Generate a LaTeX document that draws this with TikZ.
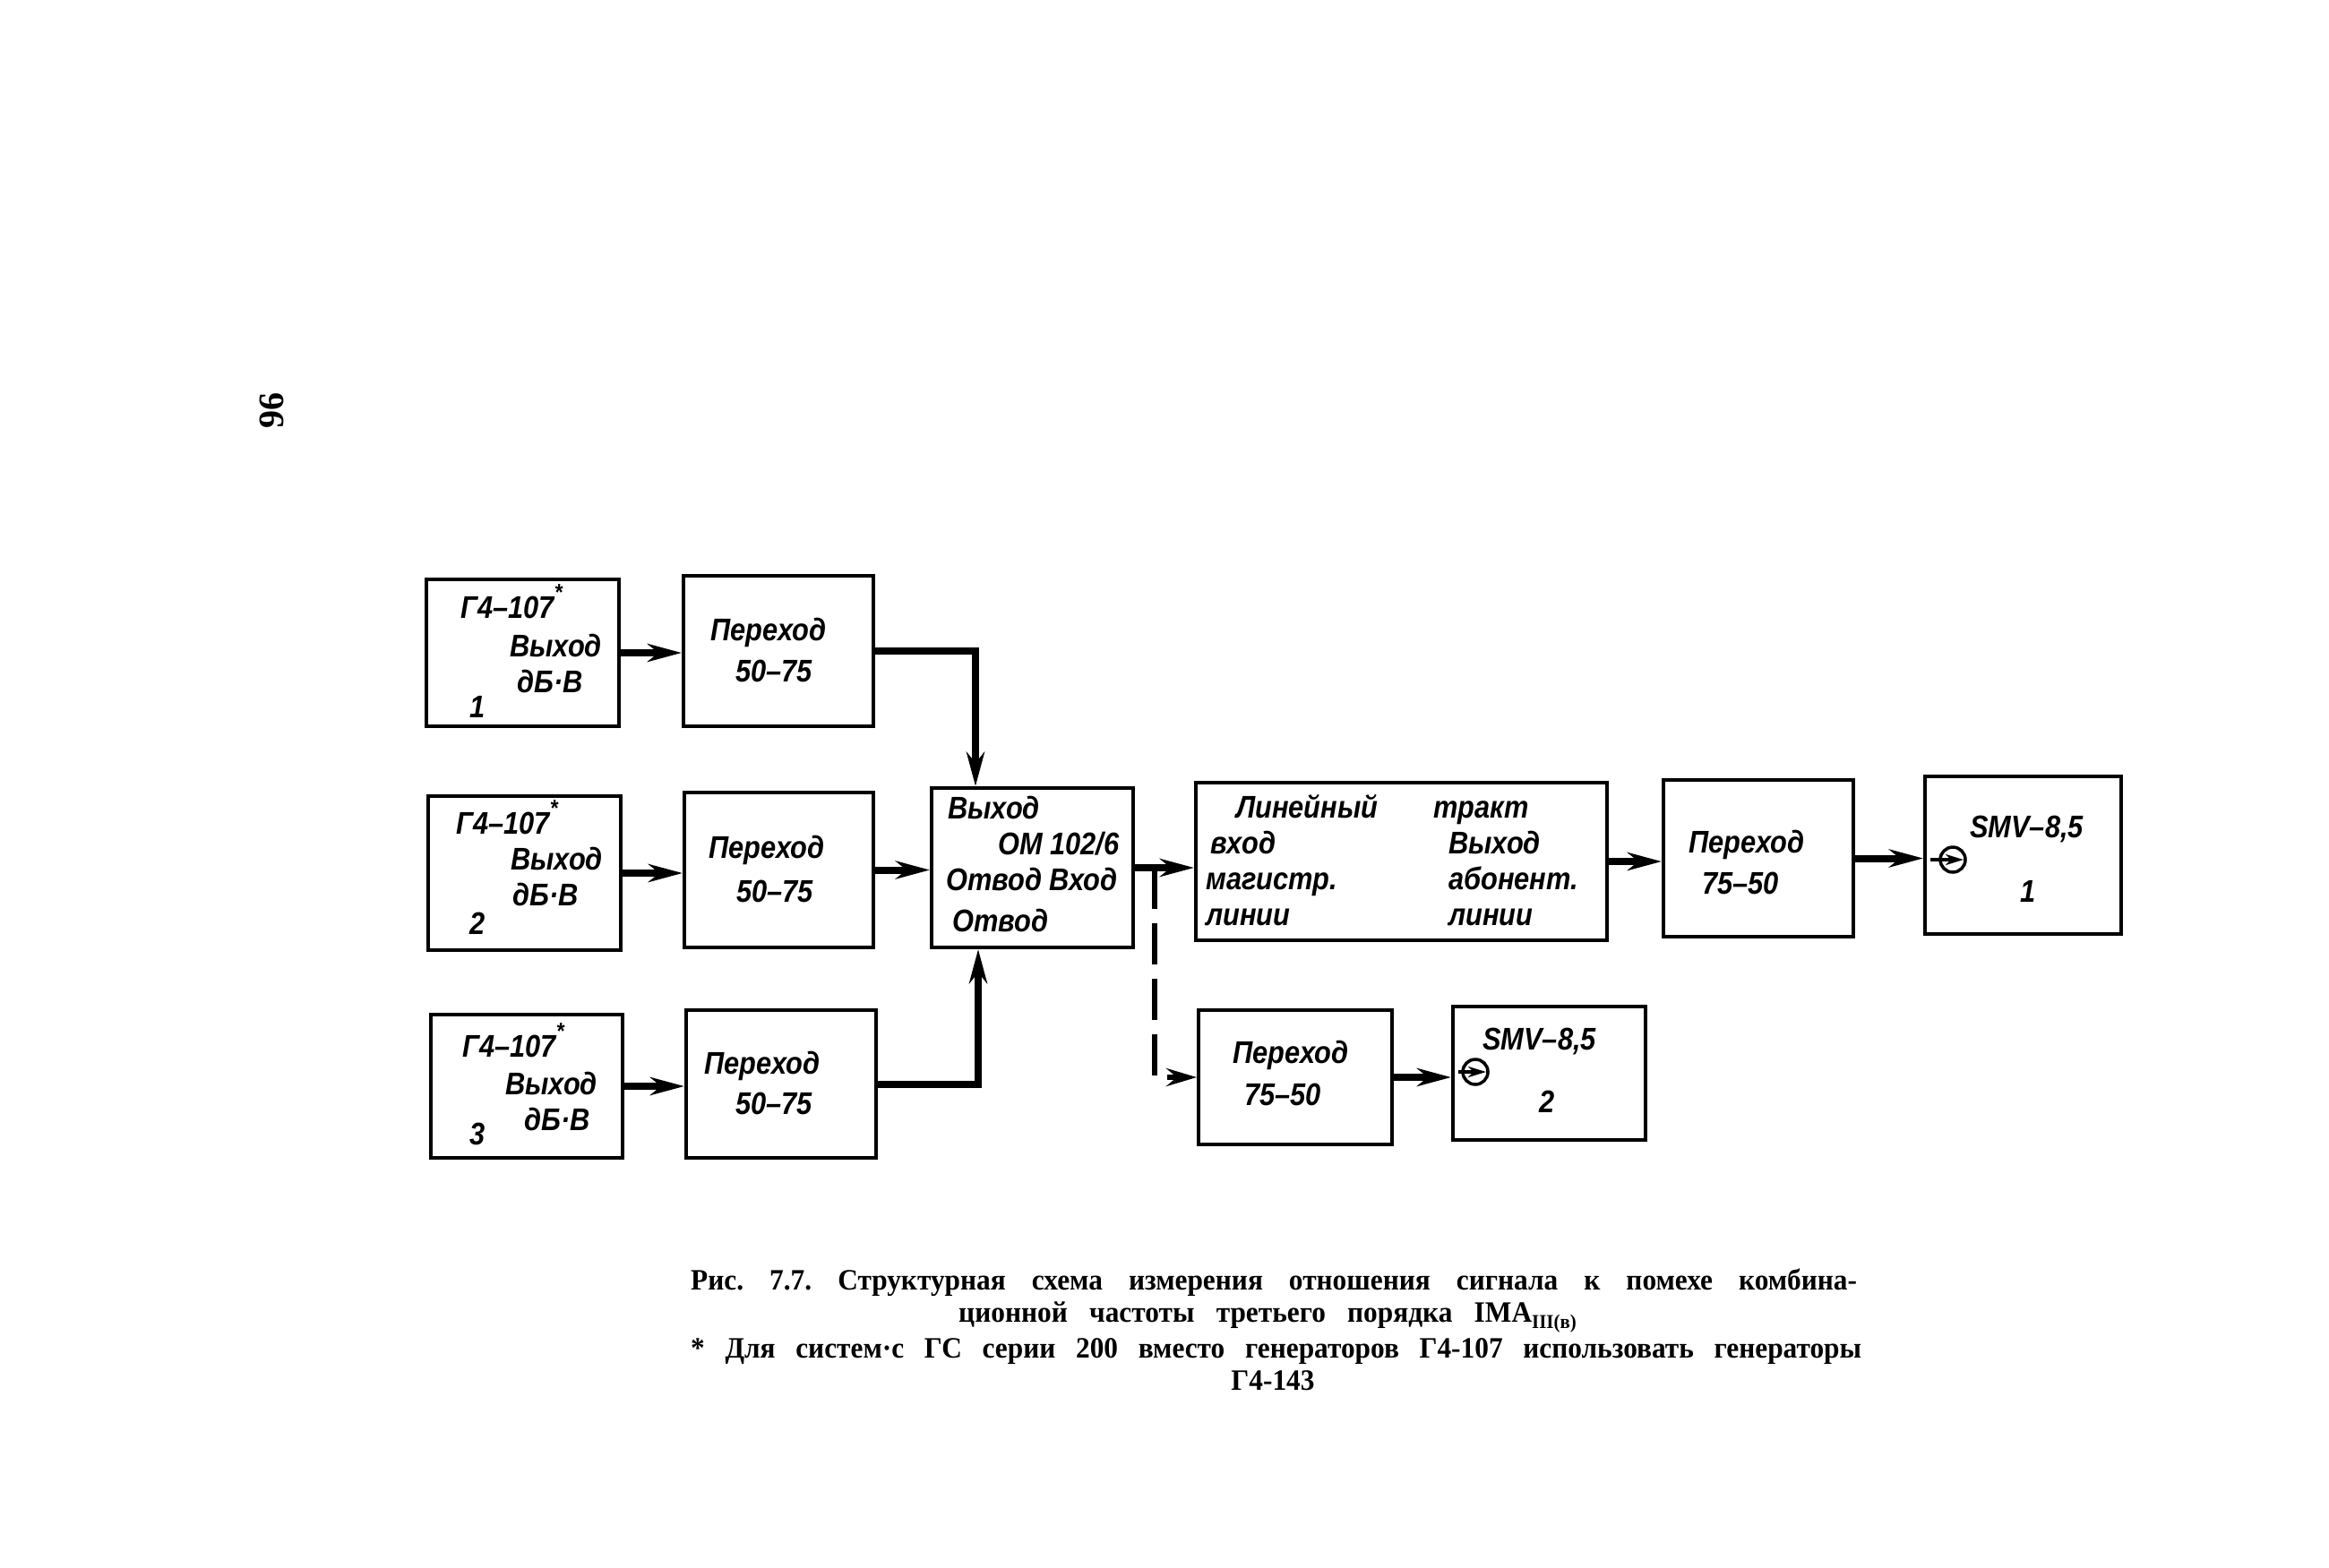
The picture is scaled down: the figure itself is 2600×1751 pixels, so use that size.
\documentclass[tikz,border=0pt]{standalone}
\usepackage{fontspec}
\setmainfont{Liberation Serif}
\newfontfamily\gost[FakeStretch=0.88]{Liberation Sans}
\newfontfamily\capfont[FakeStretch=0.95]{Liberation Serif}
\usetikzlibrary{arrows.meta,calc}
\newcommand{\st}{\raisebox{0.55em}{\fontsize{26}{26}\selectfont *}}
\newcommand{\vlines}[2]{\vtop{\baselineskip=#1\lineskiplimit=-100pt\lineskip=0pt #2}}
\begin{document}
\begin{tikzpicture}[x=1pt,y=-1pt,
  blk/.style={draw, line width=4pt, inner sep=0pt},
  lbl/.style={inner sep=0pt, anchor=base west, font=\gost\bfseries\itshape\fontsize{35}{40}\selectfont},
  captxt/.style={inner sep=0pt, anchor=base west, font=\capfont\bfseries\fontsize{33}{36}\selectfont\frenchspacing},
  conn/.style={line width=8pt, -{Stealth[length=38pt,width=20pt,inset=12pt]}},
  dconn/.style={line width=6pt, dash pattern=on 46pt off 16pt, -{Stealth[length=34pt,width=20pt,inset=12pt]}},
  inarr/.style={line width=4pt, -{Stealth[length=20pt,width=12pt,inset=6pt]}},
  ring/.style={circle, draw, line width=3.5pt, minimum size=28pt, inner sep=0pt}
]
\useasboundingbox (0,0) rectangle (2600,1751);

% page number
\node[inner sep=0pt, rotate=90, font=\bfseries\fontsize{40}{40}\selectfont] (pg) at (303,458) {96};

% boxes
\node[blk, minimum width=215pt, minimum height=164pt] (g1) at (583.5,729) {};
\node[blk, minimum width=215pt, minimum height=172pt] (g2) at (585.5,975) {};
\node[blk, minimum width=214pt, minimum height=160pt] (g3) at (588,1213) {};
\node[blk, minimum width=212pt, minimum height=168pt] (p1) at (869,727) {};
\node[blk, minimum width=211pt, minimum height=173pt] (p2) at (869.5,971.5) {};
\node[blk, minimum width=212pt, minimum height=165pt] (p3) at (872,1210.5) {};
\node[blk, minimum width=225pt, minimum height=178pt] (om) at (1152.5,969) {};
\node[blk, minimum width=459pt, minimum height=176pt] (ln) at (1564.5,962) {};
\node[blk, minimum width=212pt, minimum height=175pt] (p4) at (1963,958.5) {};
\node[blk, minimum width=219pt, minimum height=176pt] (s1) at (2258.5,955) {};
\node[blk, minimum width=216pt, minimum height=150pt] (p5) at (1446,1203) {};
\node[blk, minimum width=215pt, minimum height=149pt] (s2) at (1729.5,1198.5) {};

% texts: generators
\node[lbl] (g1t) at (514,690) {\vlines{40pt}{\hbox{Г4–107\st}\vskip3pt
  \hbox{\hspace*{55pt}Выход}
  \hbox{\makebox[63pt][l]{\hspace*{10pt}\raisebox{-28pt}{1}}дБ·В}}};
\node[lbl] (g2t) at (509,931) {\vlines{40pt}{\hbox{Г4–107\st}
  \hbox{\hspace*{61pt}Выход}
  \hbox{\makebox[63pt][l]{\hspace*{15pt}\raisebox{-32pt}{2}}дБ·В}}};
\node[lbl] (g3t) at (516,1180) {\vlines{40pt}{\hbox{Г4–107\st}\vskip2pt
  \hbox{\hspace*{48pt}Выход}
  \hbox{\makebox[69pt][l]{\hspace*{8pt}\raisebox{-16pt}{3}}дБ·В}}};
% transitions
\node[lbl] (p1a) at (793,715) {Переход};
\node[lbl] (p1b) at (821,761) {50–75};
\node[lbl] (p2a) at (791,958) {Переход};
\node[lbl] (p2b) at (822,1007) {50–75};
\node[lbl] (p3a) at (786,1199) {Переход};
\node[lbl] (p3b) at (821,1244) {50–75};
% OM
\node[lbl] (omt) at (1056,914) {\vlines{40pt}{\hbox{\hspace*{2pt}Выход}
  \hbox{\hspace*{58pt}ОМ 102/6}
  \hbox{Отвод Вход}\vskip6pt
  \hbox{\hspace*{7pt}Отвод}}};
% line path
\node[lbl] (lna) at (1380,913) {Линейный};
\node[lbl] (lnb) at (1600,913) {тракт};
\node[lbl] (lnl) at (1346,953) {\vlines{40pt}{\hbox{\hspace*{5pt}вход}\hbox{магистр.}\hbox{линии}}};
\node[lbl] (lnr) at (1617,953) {\vlines{40pt}{\hbox{Выход}\hbox{абонент.}\hbox{линии}}};
% right side
\node[lbl] (p4a) at (1885,952) {Переход};
\node[lbl] (p4b) at (1900,998) {75–50};
\node[lbl] (s1a) at (2199,935) {SMV–8,5};
\node[lbl] (s1b) at (2255,1007) {1};
\node[lbl] (p5a) at (1376,1187) {Переход};
\node[lbl] (p5b) at (1389,1234) {75–50};
\node[lbl] (s2a) at (1655,1172) {SMV–8,5};
\node[lbl] (s2b) at (1718,1242) {2};

% rings
\node[ring] (c1) at (2180,960) {};
\node[ring] (c2) at (1647,1197) {};

% connectors
\draw[conn] (g1.east) -- (g1.east -| p1.west);
\draw[conn] (g2.east) -- (g2.east -| p2.west);
\draw[conn] (g3.east) -- (g3.east -| p3.west);
\draw[conn] (p1.east) -| ($(om.north west)+(51,0)$);
\draw[conn] (p2.east) -- (p2.east -| om.west);
\draw[conn] (p3.east) -| ($(om.south west)+(54,0)$);
\draw[conn] (om.east) -- (om.east -| ln.west);
\coordinate (j) at ($(om.east)+(22,0)$);
\draw[dconn] (j) |- (p5.west);
\draw[conn] (ln.east) -- (ln.east -| p4.west);
\draw[conn] (p4.east) -- (p4.east -| s1.west);
\draw[inarr] ($(c1 -| s1.west)+(8,0)$) -- ($(c1.center)+(12,0)$);
\draw[conn] (p5.east) -- (p5.east -| s2.west);
\draw[inarr] ($(c2 -| s2.west)+(8,0)$) -- ($(c2.center)+(12,0)$);

% caption
\node[captxt] (cp1) at (771,1440) {\makebox[1302pt][s]{Рис. 7.7. Структурная схема измерения отношения сигнала к помехе комбина-}};
\node[captxt] (cp2) at (1070,1476) {\makebox[640pt][s]{ционной частоты третьего порядка IMA}\raisebox{-7pt}{\fontsize{22}{22}\selectfont III(в)}};
\node[captxt] (cp3) at (771,1516) {\makebox[1307pt][s]{* Для систем·с ГС серии 200 вместо генераторов Г4-107 использовать генераторы}};
\node[captxt, anchor=base] (cp4) at (1421,1552) {Г4-143};
\end{tikzpicture}
\end{document}
